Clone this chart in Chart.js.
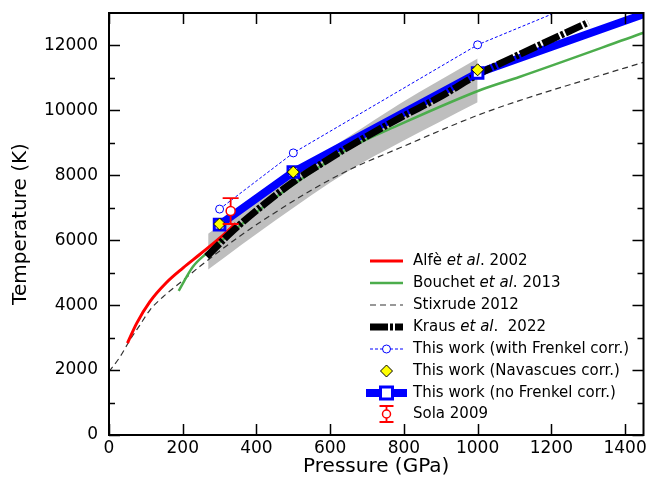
<!DOCTYPE html>
<html>
<head>
<meta charset="utf-8">
<script src="https://cdn.jsdelivr.net/npm/chart.js@4.4.1/dist/chart.umd.min.js"></script>
<style>
html,body{margin:0;padding:0;background:#fff;}
#wrap{width:654px;height:481px;position:relative;}
</style>
</head>
<body>
<div id="wrap"><canvas id="c" width="654" height="481"></canvas></div>
<script>
// ---- data ----
const xTickVals = [0, 200, 400, 600, 800, 1000, 1200, 1400];
const yTickVals = [0, 2000, 4000, 6000, 8000, 10000, 12000];
const yMinorVals = [1000, 3000, 5000, 7000, 9000, 11000];

const alfeP = [50, 75, 111, 156, 201, 246, 301, 344];
const alfeT = [2830, 3440, 4110, 4700, 5150, 5560, 6070, 6520];

const bouchetP = [189, 228, 265, 350, 450, 550, 652, 788, 1013, 1113, 1450];
const bouchetT = [4440, 5190, 5600, 6400, 7300, 8100, 8840, 9560, 10650, 11030, 12390];

const stixP = [0, 30, 57, 84, 111, 147, 192, 246, 364, 450, 550, 652, 788, 1000, 1113, 1293, 1450];
const stixT = [1950, 2410, 2930, 3390, 3850, 4260, 4680, 5190, 6200, 6850, 7550, 8170, 8840, 9850, 10300, 10940, 11480];

const krausP = [265, 337, 420, 500, 589, 652, 788, 900, 1000, 1100, 1300];
const krausT = [5500, 6300, 7100, 7800, 8450, 8890, 9760, 10430, 11100, 11650, 12710];

const bandP = [269, 450, 652, 788, 1000];
const bandUpperT = [6200, 7700, 9200, 10200, 11600];
const bandLowerT = [5100, 6600, 8150, 9000, 10250];

const frenkelP = [300, 500, 1000, 1200];
const frenkelT = [6960, 8690, 12020, 12960];

const navascuesP = [300, 500, 1000];
const navascuesT = [6500, 8100, 11250];

const noFrenkelP = [300, 500, 1000, 1450];
const noFrenkelT = [6480, 8100, 11150, 12960];

const solaP = [330];
const solaT = [6900];
const solaErr = [400];

// ---- helpers ----
const zip = (xs, ys) => xs.map((x, i) => ({x: x, y: ys[i]}));
const FONT = "'DejaVu Sans', 'Liberation Sans', sans-serif";

const BLUE = '#0000ff', RED = '#ff0000', GREEN = '#4cad4c', GRAY = '#bebebe';

const datasets = [
  {
    label: 'Sola 2009', data: zip(solaP, solaT), order: 1, showLine: false,
    pointStyle: 'circle', pointRadius: 4.5, pointBorderWidth: 1.5,
    pointBackgroundColor: '#fff', pointBorderColor: RED
  },
  {
    label: 'Navascues', data: zip(navascuesP, navascuesT), order: 2, showLine: false,
    pointStyle: 'rectRot', pointRadius: 6, pointBorderWidth: 1,
    pointBackgroundColor: '#ffff00', pointBorderColor: '#000'
  },
  {
    label: 'noFrenkelMarkers', data: zip(noFrenkelP.slice(0, 3), noFrenkelT.slice(0, 3)), order: 3, showLine: false,
    pointStyle: 'rect', pointRadius: 7.5, pointBorderWidth: 3,
    pointBackgroundColor: '#fff', pointBorderColor: BLUE
  },
  {
    label: 'Frenkel', data: zip(frenkelP, frenkelT), order: 4,
    borderColor: BLUE, borderWidth: 1, borderDash: [3, 2],
    pointStyle: 'circle', pointRadius: [4, 4, 4, 0], pointBorderWidth: 1,
    pointBackgroundColor: '#fff', pointBorderColor: BLUE
  },
  {
    label: 'Kraus', data: zip(krausP, krausT), order: 5,
    borderColor: '#000', borderWidth: 7, borderDash: [18, 2, 3, 2], borderCapStyle: 'butt',
    cubicInterpolationMode: 'monotone', pointRadius: 0
  },
  {
    label: 'noFrenkelLine', data: zip(noFrenkelP, noFrenkelT), order: 6,
    borderColor: BLUE, borderWidth: 8, pointRadius: 0, borderJoinStyle: 'round'
  },
  {
    label: 'Alfe', data: zip(alfeP, alfeT), order: 7,
    borderColor: RED, borderWidth: 3, cubicInterpolationMode: 'monotone', pointRadius: 0
  },
  {
    label: 'Bouchet', data: zip(bouchetP, bouchetT), order: 8,
    borderColor: GREEN, borderWidth: 2.5, cubicInterpolationMode: 'monotone', pointRadius: 0
  },
  {
    label: 'Stixrude', data: zip(stixP, stixT), order: 9,
    borderColor: '#333', borderWidth: 1.2, borderDash: [6, 4],
    cubicInterpolationMode: 'monotone', pointRadius: 0
  },
  {
    label: 'bandUpper', data: zip(bandP, bandUpperT), order: 10,
    borderWidth: 0, borderColor: 'rgba(0,0,0,0)', backgroundColor: GRAY,
    fill: '+1', cubicInterpolationMode: 'monotone', pointRadius: 0
  },
  {
    label: 'bandLower', data: zip(bandP, bandLowerT), order: 11,
    borderWidth: 0, borderColor: 'rgba(0,0,0,0)', fill: false,
    cubicInterpolationMode: 'monotone', pointRadius: 0
  }
];

const legendItems = [
  {type: 'line', color: RED, width: 3, text: [['Alfè ', 0], ['et al', 1], ['. 2002', 0]]},
  {type: 'line', color: GREEN, width: 2.5, text: [['Bouchet ', 0], ['et al', 1], ['. 2013', 0]]},
  {type: 'line', color: '#333', width: 1.2, dash: [6, 4], text: [['Stixrude 2012', 0]]},
  {type: 'line', color: '#000', width: 7, dash: [18, 2, 3, 2], text: [['Kraus ', 0], ['et al', 1], ['.  2022', 0]]},
  {type: 'frenkel', text: [['This work (with Frenkel corr.)', 0]]},
  {type: 'diamond', text: [['This work (Navascues corr.)', 0]]},
  {type: 'square', text: [['This work (no Frenkel corr.)', 0]]},
  {type: 'sola', text: [['Sola 2009', 0]]}
];

const decorPlugin = {
  id: 'decor',
  afterDatasetsDraw(chart) {
    const ctx = chart.ctx;
    const xs = chart.scales.x, ys = chart.scales.y;
    ctx.save();
    ctx.strokeStyle = RED; ctx.lineWidth = 1.8;
    solaP.forEach((p, i) => {
      const px = xs.getPixelForValue(p);
      const top = ys.getPixelForValue(solaT[i] + solaErr[i]);
      const bot = ys.getPixelForValue(solaT[i] - solaErr[i]);
      const cy = ys.getPixelForValue(solaT[i]);
      ctx.beginPath();
      ctx.moveTo(px, top); ctx.lineTo(px, cy - 4.5);
      ctx.moveTo(px, cy + 4.5); ctx.lineTo(px, bot);
      ctx.moveTo(px - 8, top); ctx.lineTo(px + 8, top);
      ctx.moveTo(px - 8, bot); ctx.lineTo(px + 8, bot);
      ctx.stroke();
    });
    ctx.restore();
  },
  afterDraw(chart) {
    const ctx = chart.ctx;
    const a = chart.chartArea;
    const xs = chart.scales.x, ys = chart.scales.y;
    ctx.save();
    ctx.strokeStyle = '#000'; ctx.lineWidth = 1.5;
    ctx.beginPath();
    xTickVals.forEach(v => {
      const px = Math.round(xs.getPixelForValue(v)) + 0.5;
      ctx.moveTo(px, a.bottom); ctx.lineTo(px, a.bottom - 11);
      ctx.moveTo(px, a.top); ctx.lineTo(px, a.top + 11);
    });
    yTickVals.forEach(v => {
      const py = Math.round(ys.getPixelForValue(v)) + 0.5;
      ctx.moveTo(a.left, py); ctx.lineTo(a.left + 11, py);
      ctx.moveTo(a.right, py); ctx.lineTo(a.right - 11, py);
    });
    yMinorVals.forEach(v => {
      const py = Math.round(ys.getPixelForValue(v)) + 0.5;
      ctx.moveTo(a.left, py); ctx.lineTo(a.left + 6, py);
      ctx.moveTo(a.right, py); ctx.lineTo(a.right - 6, py);
    });
    ctx.stroke();
    ctx.lineWidth = 2;
    ctx.strokeRect(a.left, a.top, a.right - a.left, a.bottom - a.top);

    const x0 = 370, x1 = 403, xm = (x0 + x1) / 2, tx = 413;
    const rowY = [261, 283, 305, 327, 349, 371, 393, 414];
    legendItems.forEach((it, i) => {
      const y = rowY[i];
      ctx.save();
      if (it.type === 'line') {
        ctx.strokeStyle = it.color; ctx.lineWidth = it.width;
        ctx.setLineDash(it.dash || []);
        ctx.lineCap = 'butt';
        ctx.beginPath(); ctx.moveTo(x0, y); ctx.lineTo(x1, y); ctx.stroke();
      } else if (it.type === 'frenkel') {
        ctx.strokeStyle = BLUE; ctx.lineWidth = 1; ctx.setLineDash([3, 2]);
        ctx.beginPath(); ctx.moveTo(x0, y); ctx.lineTo(x1, y); ctx.stroke();
        ctx.setLineDash([]);
        ctx.fillStyle = '#fff';
        ctx.beginPath(); ctx.arc(xm, y, 4, 0, Math.PI * 2); ctx.fill(); ctx.stroke();
      } else if (it.type === 'diamond') {
        ctx.fillStyle = '#ffff00'; ctx.strokeStyle = '#000'; ctx.lineWidth = 1;
        ctx.beginPath();
        ctx.moveTo(xm, y - 6); ctx.lineTo(xm + 6, y); ctx.lineTo(xm, y + 6); ctx.lineTo(xm - 6, y); ctx.closePath();
        ctx.fill(); ctx.stroke();
      } else if (it.type === 'square') {
        ctx.strokeStyle = BLUE; ctx.lineWidth = 8;
        ctx.beginPath(); ctx.moveTo(x0 - 4, y); ctx.lineTo(x1 + 4, y); ctx.stroke();
        ctx.fillStyle = '#fff'; ctx.lineWidth = 3;
        ctx.fillRect(xm - 6, y - 6, 12, 12);
        ctx.strokeRect(xm - 6, y - 6, 12, 12);
      } else if (it.type === 'sola') {
        ctx.strokeStyle = RED; ctx.lineWidth = 1.8;
        ctx.beginPath();
        ctx.moveTo(xm, y - 8); ctx.lineTo(xm, y - 4);
        ctx.moveTo(xm, y + 4); ctx.lineTo(xm, y + 8);
        ctx.moveTo(xm - 7, y - 8); ctx.lineTo(xm + 7, y - 8);
        ctx.moveTo(xm - 7, y + 8); ctx.lineTo(xm + 7, y + 8);
        ctx.stroke();
        ctx.lineWidth = 1.5; ctx.fillStyle = '#fff';
        ctx.beginPath(); ctx.arc(xm, y, 4, 0, Math.PI * 2); ctx.fill(); ctx.stroke();
      }
      ctx.restore();
      let cx = tx;
      ctx.fillStyle = '#000';
      ctx.textBaseline = 'middle';
      ctx.textAlign = 'left';
      it.text.forEach(([s, ital]) => {
        ctx.font = (ital ? 'italic ' : '') + '15px ' + FONT;
        ctx.fillText(s, cx, y);
        cx += ctx.measureText(s).width;
      });
    });
    ctx.restore();
  }
};

new Chart(document.getElementById('c'), {
  type: 'line',
  data: {datasets: datasets},
  plugins: [decorPlugin],
  options: {
    responsive: false,
    animation: false,
    devicePixelRatio: 1,
    layout: {padding: {top: 13, right: 9, left: 0, bottom: 0}},
    plugins: {legend: {display: false}, tooltip: {enabled: false}},
    elements: {line: {tension: 0}},
    scales: {
      x: {
        type: 'linear', position: 'bottom', min: 0, max: 1450,
        afterBuildTicks: s => { s.ticks = xTickVals.map(v => ({value: v})); },
        afterFit: s => { s.height = 46; s.paddingLeft = 0; s.paddingRight = 0; },
        grid: {display: false, drawTicks: false},
        border: {display: false},
        ticks: {color: '#000', font: {family: FONT, size: 17}, padding: 3, maxRotation: 0, autoSkip: false,
                callback: v => String(v)},
        title: {display: true, text: 'Pressure (GPa)', color: '#000', font: {family: FONT, size: 20}, padding: {top: 0, bottom: 2}}
      },
      y: {
        type: 'linear', position: 'left', min: 0, max: 13000,
        afterBuildTicks: s => { s.ticks = yTickVals.map(v => ({value: v})); },
        afterFit: s => { s.width = 109; s.paddingTop = 0; s.paddingBottom = 0; },
        grid: {display: false, drawTicks: false},
        border: {display: false},
        ticks: {color: '#000', font: {family: FONT, size: 17}, padding: 11, autoSkip: false,
                callback: v => String(v)},
        title: {display: true, text: 'Temperature (K)', color: '#000', font: {family: FONT, size: 20}, padding: {top: 9, bottom: 0}}
      }
    }
  }
});
</script>
</body>
</html>
